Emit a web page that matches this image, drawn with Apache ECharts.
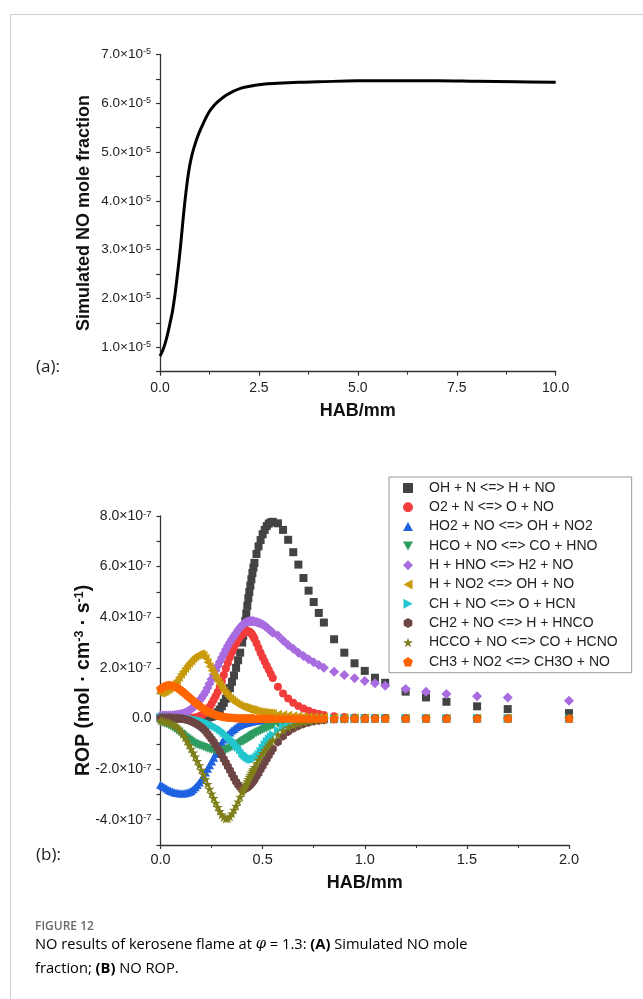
<!DOCTYPE html>
<html><head><meta charset="utf-8">
<script src="https://cdn.jsdelivr.net/npm/echarts@6/dist/echarts.min.js"></script>
<style>html,body{margin:0;padding:0;background:#fff}#c{width:643px;height:999px}</style>
</head><body><div id="c"></div>
<script>
// ---------- Panel (a): simulated NO mole fraction (values ×1e-5) ----------
const moleX = [0, 0.06, 0.13, 0.2, 0.26, 0.32, 0.385, 0.43, 0.47, 0.51, 0.56, 0.62, 0.69, 0.75, 0.81, 0.9, 0.99, 1.1, 1.24, 1.37, 1.5, 1.66, 1.84, 2.05, 2.27, 2.6, 2.96, 3.5, 4.0, 5.0, 6.0, 7.0, 8.0, 9.0, 10.0];
const moleY = [0.82, 0.92, 1.08, 1.3, 1.52, 1.76, 2.12, 2.42, 2.7, 3.0, 3.42, 3.92, 4.4, 4.72, 4.95, 5.2, 5.4, 5.6, 5.82, 5.96, 6.06, 6.16, 6.24, 6.31, 6.35, 6.39, 6.41, 6.43, 6.44, 6.46, 6.46, 6.46, 6.45, 6.44, 6.43];

// ---------- Panel (b): NO ROP (values ×1e-7) ----------
const ropX = [0,0.01,0.02,0.03,0.04,0.05,0.06,0.07,0.08,0.09,0.10,0.11,0.12,0.13,0.14,0.15,0.16,0.17,0.18,0.19,0.20,
  0.21,0.22,0.23,0.24,0.25,0.26,0.27,0.28,0.29,0.30,
  0.31,0.32,0.33,0.34,0.35,0.36,0.37,0.38,0.39,0.40,
  0.405,0.41,0.415,0.42,0.425,0.43,0.435,0.44,0.445,0.45,0.455,0.46,0.47,0.48,0.49,0.50,
  0.51,0.52,0.53,0.54,0.55,
  0.575,0.60,0.625,0.65,0.675,0.70,0.725,0.75,0.775,0.80,
  0.85,0.90,0.95,1.0,1.05,1.1,1.2,1.3,1.4,1.55,1.7,2.0];

const rOH_N = [0,0,0,0,0,0,0,0,0,0,0,0,0,0,0,0,0,0,0,0.01,0.01,
  0.01,0.02,0.03,0.05,0.07,0.1,0.15,0.25,0.35,0.48,
  0.62,0.78,0.98,1.2,1.45,1.7,2.0,2.3,2.6,3.0,
  3.27,3.55,3.85,4.15,4.45,4.75,5.0,5.25,5.5,5.75,5.96,6.15,6.5,6.8,7.05,7.28,
  7.45,7.6,7.7,7.75,7.77,
  7.71,7.45,7.06,6.57,6.08,5.55,5.05,4.6,4.17,3.79,
  3.13,2.6,2.18,1.88,1.61,1.41,1.06,0.83,0.66,0.48,0.37,0.21];
const rO2_N = [0,0,0,0,0,0,0,0,0,0,0,0,0,0,0.01,0.02,0.03,0.04,0.06,0.09,0.12,
  0.17,0.22,0.32,0.45,0.58,0.73,0.88,1.05,1.25,1.47,
  1.72,1.97,2.2,2.42,2.62,2.8,2.96,3.1,3.22,3.32,
  3.36,3.4,3.43,3.45,3.46,3.45,3.43,3.4,3.36,3.3,3.23,3.15,2.97,2.78,2.6,2.42,
  2.25,2.08,1.92,1.76,1.6,
  1.25,0.99,0.79,0.62,0.49,0.39,0.3,0.23,0.18,0.14,
  0.09,0.06,0.04,0.03,0.02,0.02,0.01,0,0,0,0,0];
const rHO2_NO = [-2.62,-2.67,-2.72,-2.77,-2.82,-2.86,-2.89,-2.92,-2.94,-2.95,-2.96,-2.96,-2.95,-2.93,-2.9,-2.86,-2.8,-2.72,-2.63,-2.53,-2.42,
  -2.27,-2.13,-1.99,-1.85,-1.7,-1.55,-1.4,-1.25,-1.1,-0.95,
  -0.83,-0.72,-0.63,-0.55,-0.47,-0.41,-0.35,-0.3,-0.26,-0.22,
  -0.2,-0.19,-0.18,-0.17,-0.16,-0.15,-0.14,-0.13,-0.12,-0.11,-0.1,-0.1,-0.09,-0.08,-0.07,-0.06,
  -0.05,-0.05,-0.04,-0.04,-0.03,
  -0.03,-0.02,-0.02,-0.02,-0.01,-0.01,-0.01,-0.01,-0.01,-0.01,
  0,0,0,0,0,0,0,0,0,0,0,0];
const rHCO_NO = [-0.15,-0.17,-0.2,-0.23,-0.27,-0.31,-0.36,-0.41,-0.47,-0.53,-0.6,-0.66,-0.72,-0.78,-0.84,-0.9,-0.96,-1.0,-1.04,-1.07,-1.1,
  -1.13,-1.16,-1.19,-1.22,-1.24,-1.25,-1.26,-1.27,-1.27,-1.27,
  -1.26,-1.24,-1.21,-1.18,-1.14,-1.1,-1.06,-1.02,-0.97,-0.92,
  -0.9,-0.87,-0.85,-0.82,-0.8,-0.77,-0.75,-0.72,-0.7,-0.67,-0.65,-0.62,-0.57,-0.53,-0.49,-0.45,
  -0.41,-0.38,-0.34,-0.31,-0.28,
  -0.22,-0.17,-0.13,-0.1,-0.08,-0.06,-0.04,-0.03,-0.02,-0.02,
  -0.01,-0.01,0,0,0,0,0,0,0,0,0,0];
const rH_HNO = [0.12,0.12,0.12,0.12,0.12,0.12,0.13,0.14,0.15,0.16,0.18,0.2,0.23,0.27,0.31,0.37,0.43,0.51,0.6,0.7,0.8,
  0.92,1.05,1.2,1.37,1.55,1.73,1.9,2.07,2.24,2.4,
  2.56,2.72,2.87,3.01,3.14,3.26,3.38,3.5,3.6,3.68,
  3.72,3.75,3.78,3.8,3.82,3.83,3.84,3.84,3.84,3.84,3.84,3.83,3.81,3.78,3.75,3.71,
  3.66,3.6,3.53,3.46,3.39,
  3.28,3.08,2.9,2.75,2.6,2.47,2.34,2.22,2.11,2.0,
  1.85,1.72,1.59,1.48,1.39,1.29,1.16,1.06,0.97,0.88,0.83,0.7];
const rH_NO2 = [1.0,1.02,1.05,1.1,1.15,1.22,1.3,1.4,1.5,1.62,1.75,1.86,1.97,2.08,2.18,2.27,2.36,2.44,2.5,2.54,2.56,
  2.5,2.38,2.22,2.05,1.9,1.75,1.6,1.46,1.33,1.2,
  1.09,0.98,0.89,0.8,0.73,0.66,0.6,0.55,0.5,0.46,
  0.45,0.43,0.42,0.4,0.39,0.37,0.36,0.35,0.34,0.33,0.32,0.31,0.29,0.28,0.26,0.25,
  0.24,0.23,0.22,0.21,0.2,
  0.17,0.15,0.13,0.11,0.1,0.08,0.07,0.06,0.05,0.05,
  0.04,0.03,0.03,0.02,0.02,0.02,0.01,0.01,0.01,0.01,0.01,0.01];
const rCH_NO = [0.05,0.05,0.05,0.05,0.04,0.04,0.03,0.03,0.02,0.02,0.01,0.01,0,-0.01,-0.02,-0.03,-0.04,-0.05,-0.07,-0.08,-0.1,
  -0.12,-0.15,-0.18,-0.21,-0.25,-0.29,-0.33,-0.38,-0.44,-0.5,
  -0.57,-0.64,-0.71,-0.78,-0.85,-0.95,-1.05,-1.15,-1.25,-1.35,
  -1.39,-1.43,-1.47,-1.5,-1.53,-1.56,-1.58,-1.6,-1.61,-1.61,-1.6,-1.58,-1.51,-1.42,-1.3,-1.16,
  -1.03,-0.91,-0.81,-0.72,-0.63,
  -0.47,-0.33,-0.24,-0.17,-0.12,-0.09,-0.07,-0.05,-0.04,-0.03,
  -0.02,-0.01,-0.01,0,0,0,0,0,0,0,0,0];
const rCH2_NO = [0.03,0.03,0.03,0.03,0.03,0.03,0.02,0.02,0.01,0.01,0,-0.01,-0.03,-0.05,-0.08,-0.11,-0.15,-0.19,-0.24,-0.29,-0.35,
  -0.42,-0.5,-0.6,-0.7,-0.81,-0.92,-1.05,-1.18,-1.31,-1.45,
  -1.6,-1.75,-1.9,-2.05,-2.2,-2.35,-2.5,-2.62,-2.72,-2.78,
  -2.79,-2.78,-2.77,-2.76,-2.73,-2.7,-2.66,-2.62,-2.57,-2.52,-2.47,-2.41,-2.29,-2.16,-2.02,-1.88,
  -1.74,-1.6,-1.46,-1.33,-1.2,
  -0.93,-0.7,-0.53,-0.4,-0.3,-0.22,-0.16,-0.11,-0.08,-0.06,
  -0.03,-0.02,-0.01,-0.01,0,0,0,0,0,0,0,0];
const rHCCO_NO = [-0.08,-0.1,-0.12,-0.14,-0.17,-0.2,-0.24,-0.28,-0.33,-0.41,-0.5,-0.62,-0.75,-0.9,-1.05,-1.2,-1.35,-1.51,-1.68,-1.85,-2.03,
  -2.21,-2.4,-2.59,-2.78,-2.97,-3.15,-3.33,-3.5,-3.66,-3.8,
  -3.9,-3.96,-3.95,-3.88,-3.76,-3.61,-3.45,-3.28,-3.1,-2.92,
  -2.83,-2.75,-2.66,-2.57,-2.48,-2.4,-2.31,-2.23,-2.15,-2.07,-2.0,-1.92,-1.77,-1.63,-1.5,-1.37,
  -1.25,-1.14,-1.03,-0.93,-0.84,
  -0.64,-0.48,-0.36,-0.27,-0.2,-0.15,-0.11,-0.08,-0.06,-0.05,
  -0.03,-0.02,-0.01,-0.01,0,0,0,0,0,0,0,0];
const rCH3_NO2 = [1.18,1.24,1.28,1.31,1.32,1.32,1.3,1.27,1.24,1.19,1.13,1.07,1.0,0.93,0.86,0.79,0.72,0.65,0.58,0.52,0.46,
  0.4,0.35,0.3,0.26,0.22,0.19,0.16,0.13,0.11,0.09,
  0.07,0.06,0.05,0.04,0.03,0.03,0.02,0.02,0.02,0.01,
  0.01,0.01,0.01,0.01,0.01,0.01,0.01,0.01,0.01,0.01,0,0,0,0,0,0,
  0,0,0,0,0,
  0,0,0,0,0,0,0,0,0,0,
  0,0,0,0,0,0,0,0,0,0,0,0];

const reactionNames = ['OH + N <=> H + NO','O2 + N <=> O + NO','HO2 + NO <=> OH + NO2','HCO + NO <=> CO + HNO',
  'H + HNO <=> H2 + NO','H + NO2 <=> OH + NO','CH + NO <=> O + HCN','CH2 + NO <=> H + HNCO',
  'HCCO + NO <=> CO + HCNO','CH3 + NO2 <=> CH3O + NO'];
const reactionValues = [rOH_N, rO2_N, rHO2_NO, rHCO_NO, rH_HNO, rH_NO2, rCH_NO, rCH2_NO, rHCCO_NO, rCH3_NO2];

const FONT = 'Liberation Sans';
const STAR = 'path://M50,0 L61.8,35.1 L98.1,35.1 L68.8,56.7 L79.4,91 L50,70 L20.6,91 L31.2,56.7 L1.9,35.1 L38.2,35.1 Z';
const PENT = 'path://M50,0 L97.6,34.5 L79.4,90.5 L20.6,90.5 L2.4,34.5 Z';
const HEX = 'path://M50,0 L93.3,25 L93.3,75 L50,100 L6.7,75 L6.7,25 Z';
const TRI_UP = 'path://M50,0 L100,90 L0,90 Z';
const TRI_DOWN = 'path://M0,0 L100,0 L50,90 Z';
const TRI_LEFT = 'path://M90,0 L90,100 L0,50 Z';
const TRI_RIGHT = 'path://M0,0 L0,100 L90,50 Z';
const styles = [
  {color:'#434343', symbol:'rect', size:8},
  {color:'#f23c3c', symbol:'circle', size:8},
  {color:'#1f62e0', symbol:TRI_UP, size:9},
  {color:'#2e9c62', symbol:TRI_DOWN, size:9},
  {color:'#a96be0', symbol:'diamond', size:10},
  {color:'#c99a0a', symbol:TRI_LEFT, size:9},
  {color:'#22c6cf', symbol:TRI_RIGHT, size:9},
  {color:'#6e4545', symbol:HEX, size:9},
  {color:'#7f7f1a', symbol:STAR, size:10},
  {color:'#ff6500', symbol:PENT, size:9}
];

const richTop = {
  b: {fontSize: 13.5, fontFamily: FONT, color: '#222'},
  s: {fontSize: 9, fontFamily: FONT, color: '#222', verticalAlign: 'top'}
};
const richBot = {
  b: {fontSize: 14, fontFamily: FONT, color: '#222'},
  s: {fontSize: 9.5, fontFamily: FONT, color: '#222', verticalAlign: 'top'}
};

const chart = echarts.init(document.getElementById('c'));

const series = [{
  type: 'line', xAxisIndex: 0, yAxisIndex: 0,
  data: moleX.map((x, i) => [x, moleY[i] * 1e-5]),
  smooth: 0.4, showSymbol: false, lineStyle: {color: '#000', width: 3}, silent: true
}];
reactionValues.forEach((arr, k) => {
  const st = styles[k];
  series.push({
    type: 'scatter', name: reactionNames[k], xAxisIndex: 1, yAxisIndex: 1,
    data: ropX.map((x, i) => [x, arr[i] * 1e-7]),
    symbol: st.symbol, symbolSize: st.size, symbolKeepAspect: true,
    itemStyle: {color: st.color, opacity: 1}, silent: true
  });
});

const axisCommon = {
  axisLine: {show: true, onZero: false, lineStyle: {color: '#333', width: 1.3}},
  axisTick: {show: true, length: 4, lineStyle: {color: '#333', width: 1.2}},
  splitLine: {show: false},
  nameMoveOverlap: false
};

chart.setOption({
  animation: false,
  backgroundColor: '#fff',
  grid: [
    {left: 160, top: 54.5, width: 395.7, height: 317.2},
    {left: 160.5, top: 516, width: 408.5, height: 329}
  ],
  xAxis: [
    Object.assign({}, axisCommon, {
      gridIndex: 0, type: 'value', min: 0, max: 10, interval: 2.5,
      minorTick: {show: true, splitNumber: 2, length: 3, lineStyle: {color: '#333'}},
      axisLabel: {fontSize: 14, fontFamily: FONT, color: '#222', margin: 9, formatter: v => v.toFixed(1)},
      name: 'HAB/mm', nameLocation: 'middle', nameGap: 30,
      nameTextStyle: {fontSize: 18, fontWeight: 'bold', fontFamily: FONT, color: '#111'}
    }),
    Object.assign({}, axisCommon, {
      gridIndex: 1, type: 'value', min: 0, max: 2, interval: 0.5,
      minorTick: {show: true, splitNumber: 2, length: 3, lineStyle: {color: '#333'}},
      axisLabel: {fontSize: 14.5, fontFamily: FONT, color: '#222', margin: 7, formatter: v => v.toFixed(1)},
      name: 'HAB/mm', nameLocation: 'middle', nameGap: 29,
      nameTextStyle: {fontSize: 18, fontWeight: 'bold', fontFamily: FONT, color: '#111'}
    })
  ],
  yAxis: [
    Object.assign({}, axisCommon, {
      gridIndex: 0, type: 'value', min: 0.5e-5, max: 7e-5, interval: 0.5e-5,
      axisLabel: {margin: 9, rich: richTop, formatter: v => {
        const m = Math.round(v / 0.5e-5);
        if (m % 2) return '';
        return '{b|' + (m / 2).toFixed(1) + '×10}{s|-5}';
      }},
      name: 'Simulated NO mole fraction', nameLocation: 'middle', nameGap: 67,
      nameTextStyle: {fontSize: 18, fontWeight: 'bold', fontFamily: FONT, color: '#111'}
    }),
    Object.assign({}, axisCommon, {
      gridIndex: 1, type: 'value', min: -5e-7, max: 8e-7, interval: 1e-7,
      axisLabel: {margin: 9, rich: richBot, formatter: v => {
        const m = Math.round(v / 1e-7);
        if (m % 2) return '';
        if (m === 0) return '{b|0.0}';
        return '{b|' + m.toFixed(1) + '×10}{s|-7}';
      }},
      name: '{n|ROP (mol · cm}{s|-3}{n| · s}{s|-1}{n|)}', nameLocation: 'middle', nameGap: 67,
      nameTextStyle: {rich: {
        n: {fontSize: 19.5, fontWeight: 'bold', fontFamily: FONT, color: '#111'},
        s: {fontSize: 12.5, fontWeight: 'bold', fontFamily: FONT, color: '#111', verticalAlign: 'top'}
      }}
    })
  ],
  legend: {
    orient: 'vertical', left: 389, top: 477,
    padding: [4, 14, 4, 14], itemGap: 5.3,
    itemWidth: 10, itemHeight: 10, symbolKeepAspect: true,
    borderColor: '#999', borderWidth: 1,
    textStyle: {fontSize: 14, fontFamily: FONT, color: '#222', lineHeight: 13, padding: [0, 0, 0, 11]},
    data: reactionNames
  },
  graphic: [
    {type: 'line', shape: {x1: 10.5, y1: 14.5, x2: 643, y2: 14.5}, style: {stroke: '#d0d0d0', lineWidth: 1}},
    {type: 'line', shape: {x1: 10.5, y1: 14.5, x2: 10.5, y2: 999}, style: {stroke: '#d0d0d0', lineWidth: 1}},
    {type: 'text', left: 36, top: 359, style: {text: '(a):', font: '17px "Open Sans", sans-serif', fill: '#222'}},
    {type: 'text', left: 36, top: 847, style: {text: '(b):', font: '17px "Open Sans", sans-serif', fill: '#222'}},
    {type: 'text', left: 35, top: 921, style: {text: 'FIGURE 12', font: '600 12px "Open Sans", sans-serif', fill: '#6a6a6a'}},
    {type: 'text', left: 35, top: 937, style: {
      text: '{t|NO results of kerosene flame at }{i|φ}{t| = 1.3: }{b|(A)}{t| Simulated NO mole}\n{t|fraction; }{b|(B)}{t| NO ROP.}',
      rich: {
        t: {fontSize: 14.7, fontFamily: '"Open Sans", sans-serif', color: '#707070', lineHeight: 24},
        i: {fontSize: 14.7, fontFamily: '"DejaVu Serif", serif', fontStyle: 'italic', color: '#707070', lineHeight: 24},
        b: {fontSize: 14.7, fontFamily: '"Open Sans", sans-serif', fontWeight: 'bold', color: '#555', lineHeight: 24}
      }
    }}
  ],
  series: series
});
</script>
</body></html>
